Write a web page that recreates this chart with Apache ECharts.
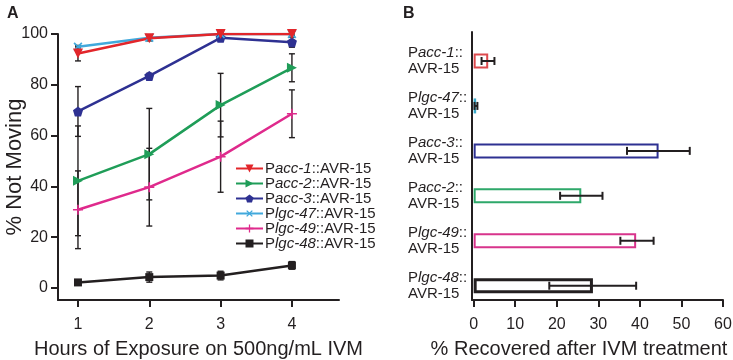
<!DOCTYPE html>
<html>
<head>
<meta charset="utf-8">
<script src="https://cdn.jsdelivr.net/npm/echarts@6/dist/echarts.min.js"></script>
<style>
  html, body { margin: 0; padding: 0; background: #fff; }
  #main { width: 733px; height: 360px; }
</style>
</head>
<body>
<div id="main"></div>
<script>
// panel A: % not moving vs hours
var hours = [1, 2, 3, 4];
var acc1 = [92.3, 98.3, 100, 100];
var acc1Err = [2.9, 1, 0.5, 0.5];
var acc2 = [42.2, 52.7, 72, 86.7];
var acc2Err = [21.6, 18, 12.5, 5.5];
var acc3 = [69.5, 83.5, 98.5, 96.8];
var acc3Err = [9.8, 1, 1, 2];
var lgc47 = [95, 98.5, 100, 100];
var lgc47Err = [0.5, 1, 0.5, 0.5];
var lgc49 = [30.8, 39.7, 51.7, 68.6];
var lgc49Err = [15.3, 15.3, 14, 9.4];
var lgc48 = [2.2, 4.3, 4.9, 8.9];
var lgc48Err = [0.8, 2, 1.7, 1.5];
var yTicksA = [0, 20, 40, 60, 80, 100];

// panel B: % recovered
var strains = ['Pacc-1::AVR-15', 'Plgc-47::AVR-15', 'Pacc-3::AVR-15', 'Pacc-2::AVR-15', 'Plgc-49::AVR-15', 'Plgc-48::AVR-15'];
var recovered = [3.5, 0.6, 44.5, 25.9, 39.1, 28.7];
var recLow = [1.9, 0.2, 36.9, 20.8, 35.3, 18.2];
var recHigh = [5.0, 0.9, 52.0, 31.0, 43.3, 39.1];
var xTicksB = [0, 10, 20, 30, 40, 50, 60];

var FONT = 'Liberation Sans, Arial, Helvetica, sans-serif';
var INK = '#231f20';
var colors = {
  acc1: '#e2262b', acc2: '#1f9d58', acc3: '#2e3192',
  lgc47: '#41a9dc', lgc49: '#df2a8c', lgc48: '#231f20'
};
var barBorder = ['#dd4a4e', '#3aa9c9', '#2e3192', '#2ea86a', '#d8348c', '#231f20'];

var pentagon = 'path://M5,0L10,3.7L8.1,10H1.9L0,3.7Z';
var plus = 'path://M4.2,0H5.8V4.2H10V5.8H5.8V10H4.2V5.8H0V4.2H4.2Z';

function pairs(ys) {
  return hours.map(function (h, i) { return [h, ys[i]]; });
}
function errData(ys, es) {
  return hours.map(function (h, i) { return [h, ys[i] - es[i], ys[i] + es[i]]; });
}

function vErrorBar(params, api) {
  var lo = api.coord([api.value(0), api.value(1)]);
  var hi = api.coord([api.value(0), api.value(2)]);
  var w = 3;
  var st = { stroke: INK, lineWidth: 1.4 };
  return {
    type: 'group',
    children: [
      { type: 'line', shape: { x1: lo[0], y1: lo[1], x2: hi[0], y2: hi[1] }, style: st },
      { type: 'line', shape: { x1: lo[0] - w, y1: lo[1], x2: lo[0] + w, y2: lo[1] }, style: st },
      { type: 'line', shape: { x1: hi[0] - w, y1: hi[1], x2: hi[0] + w, y2: hi[1] }, style: st }
    ]
  };
}

function hErrorBar(params, api) {
  var lo = api.coord([api.value(0), api.value(2)]);
  var hi = api.coord([api.value(1), api.value(2)]);
  var h = 4;
  var st = { stroke: INK, lineWidth: 2 };
  return {
    type: 'group',
    children: [
      { type: 'line', shape: { x1: lo[0], y1: lo[1], x2: hi[0], y2: hi[1] }, style: st },
      { type: 'line', shape: { x1: lo[0], y1: lo[1] - h, x2: lo[0], y2: lo[1] + h }, style: st },
      { type: 'line', shape: { x1: hi[0], y1: hi[1] - h, x2: hi[0], y2: hi[1] + h }, style: st }
    ]
  };
}

function lineSeries(name, ys, color, symbol, size, rotate) {
  return {
    name: name,
    type: 'line',
    xAxisIndex: 0,
    yAxisIndex: 0,
    data: pairs(ys),
    symbol: symbol,
    symbolSize: size,
    symbolRotate: rotate || 0,
    showAllSymbol: true,
    lineStyle: { color: color, width: 2.5 },
    itemStyle: { color: color, borderWidth: 0 },
    z: 3
  };
}

function errSeries(ys, es) {
  return {
    type: 'custom',
    xAxisIndex: 0,
    yAxisIndex: 0,
    renderItem: vErrorBar,
    data: errData(ys, es),
    encode: { x: 0, y: [1, 2] },
    silent: true,
    z: 2
  };
}

var richItalic = {
  i: { fontStyle: 'italic', fontFamily: FONT, fontSize: 15, color: INK }
};
function strainLabel(name, multiline) {
  var cut = name.indexOf('::');
  return 'P{i|' + name.slice(1, cut) + '}::' + (multiline ? '\n' : '') + 'AVR-15';
}

var chart = echarts.init(document.getElementById('main'), null, { renderer: 'canvas' });

chart.setOption({
  animation: false,
  backgroundColor: '#fff',
  textStyle: { fontFamily: FONT, color: INK },
  title: [
    { text: 'A', left: 2, top: 1, textStyle: { fontFamily: FONT, fontSize: 16, fontWeight: 'bold', color: INK } },
    { text: 'B', left: 398, top: 1, textStyle: { fontFamily: FONT, fontSize: 16, fontWeight: 'bold', color: INK } }
  ],
  legend: {
    orient: 'vertical',
    left: 235,
    top: 161,
    padding: 0,
    itemWidth: 27,
    itemHeight: 10,
    itemGap: 0,
    data: ['Pacc-1::AVR-15', 'Pacc-2::AVR-15', 'Pacc-3::AVR-15', 'Plgc-47::AVR-15', 'Plgc-49::AVR-15', 'Plgc-48::AVR-15'],
    formatter: function (name) { return strainLabel(name, false); },
    textStyle: { fontFamily: FONT, fontSize: 15, color: INK, padding: [0, 0, 0, -3], rich: richItalic }
  },
  grid: [
    { left: 58, right: 394, top: 34, bottom: 60, outerBoundsMode: 'none' },
    { left: 472, right: 10, top: 32, bottom: 60, outerBoundsMode: 'none' },
    { left: 472, right: 10, top: 38.5, bottom: 51.8, outerBoundsMode: 'none' }
  ],
  xAxis: [
    {
      gridIndex: 0, type: 'value', min: 0.72, max: 4.66,
      name: 'Hours of Exposure on 500ng/mL IVM', nameLocation: 'middle', nameGap: 39, nameMoveOverlap: false,
      nameTextStyle: { fontFamily: FONT, fontSize: 20, color: INK },
      axisLine: { show: true, onZero: false, lineStyle: { color: INK, width: 2 } },
      axisTick: { show: true, length: 7, lineStyle: { color: INK, width: 2 }, customValues: hours },
      axisLabel: { fontFamily: FONT, fontSize: 16, color: INK, margin: 17, customValues: hours },
      splitLine: { show: false }
    },
    {
      gridIndex: 1, type: 'value', min: -0.4, max: 60,
      name: '% Recovered after IVM treatment', nameLocation: 'middle', nameGap: 39, nameMoveOverlap: false,
      nameTextStyle: { fontFamily: FONT, fontSize: 20, color: INK, padding: [0, 37, 0, 0] },
      axisLine: { show: true, onZero: false, lineStyle: { color: INK, width: 2 } },
      axisTick: { show: true, length: 7, lineStyle: { color: INK, width: 2 }, customValues: xTicksB },
      axisLabel: { fontFamily: FONT, fontSize: 16, color: INK, margin: 17, customValues: xTicksB },
      splitLine: { show: false }
    },
    {
      gridIndex: 2, type: 'value', min: -0.4, max: 60, show: false
    }
  ],
  yAxis: [
    {
      gridIndex: 0, type: 'value', min: -4.72, max: 100,
      name: '% Not Moving', nameLocation: 'middle', nameGap: 32, nameMoveOverlap: false,
      nameTextStyle: { fontFamily: FONT, fontSize: 22, color: INK },
      axisLine: { show: true, onZero: false, lineStyle: { color: INK, width: 2 } },
      axisTick: { show: true, length: 7, lineStyle: { color: INK, width: 2 }, customValues: yTicksA },
      axisLabel: { fontFamily: FONT, fontSize: 16, color: INK, margin: 10, customValues: yTicksA },
      splitLine: { show: false }
    },
    {
      gridIndex: 1, type: 'value', min: 0, max: 1,
      axisLine: { show: true, onZero: false, lineStyle: { color: INK, width: 2 } },
      axisTick: { show: false },
      axisLabel: { show: false },
      splitLine: { show: false }
    },
    {
      gridIndex: 2, type: 'category', inverse: true, data: strains,
      axisLine: { show: false },
      axisTick: { show: false },
      axisLabel: {
        fontFamily: FONT, fontSize: 15, color: INK, align: 'left', margin: 64, lineHeight: 16.5,
        formatter: function (v) { return strainLabel(v, true); },
        rich: { i: { fontStyle: 'italic', fontFamily: FONT, fontSize: 15, color: INK, lineHeight: 16.5 } }
      }
    }
  ],
  series: [
    errSeries(lgc48, lgc48Err),
    errSeries(lgc49, lgc49Err),
    errSeries(lgc47, lgc47Err),
    errSeries(acc3, acc3Err),
    errSeries(acc2, acc2Err),
    errSeries(acc1, acc1Err),
    lineSeries('Plgc-48::AVR-15', lgc48, colors.lgc48, 'rect', 8),
    lineSeries('Plgc-49::AVR-15', lgc49, colors.lgc49, plus, 10),
    lineSeries('Pacc-2::AVR-15', acc2, colors.acc2, 'triangle', 10, -90),
    lineSeries('Pacc-3::AVR-15', acc3, colors.acc3, pentagon, 10),
    lineSeries('Plgc-47::AVR-15', lgc47, colors.lgc47, plus, 11, 45),
    lineSeries('Pacc-1::AVR-15', acc1, colors.acc1, 'triangle', 10, 180),
    {
      type: 'bar',
      xAxisIndex: 2,
      yAxisIndex: 2,
      barWidth: 15,
      data: recovered.map(function (v, i) {
        return {
          value: v,
          itemStyle: {
            color: i === 1 ? barBorder[i] : '#fff',
            borderColor: barBorder[i],
            borderWidth: i === 5 ? 3 : 2
          }
        };
      }),
      z: 2
    },
    {
      type: 'custom',
      xAxisIndex: 2,
      yAxisIndex: 2,
      renderItem: hErrorBar,
      data: strains.map(function (s, i) { return [recLow[i], recHigh[i], s]; }),
      encode: { x: [0, 1], y: 2 },
      silent: true,
      z: 3
    }
  ]
});
</script>
</body>
</html>
